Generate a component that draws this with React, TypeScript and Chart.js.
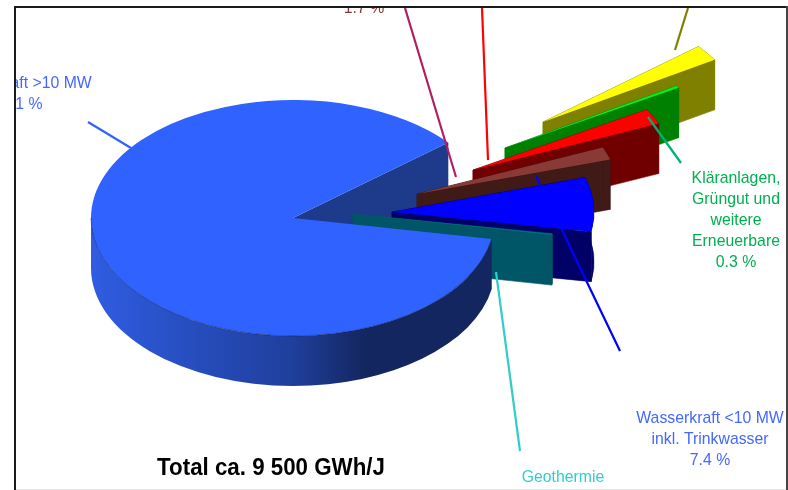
import React, { useEffect, useRef } from "react";
import { Chart, registerables } from "chart.js";

Chart.register(...registerables);

const categories = [
  "Wasserkraft >10 MW",
  "Sonstige 1",
  "Kläranlagen, Grüngut und weitere Erneuerbare",
  "Sonstige 2",
  "Sonstige 3",
  "Wasserkraft <10 MW inkl. Trinkwasser",
  "Geothermie",
];
const shares = [86.1, 2.2, 0.3, 2.1, 1.7, 7.4, 0.2];

const topColors = ["#3062ff", "#ffff00", "#00f020", "#ff0000", "#8a3a36", "#0000ff", "#006f7c"];
const wallColors = ["#1e3a8a", "#808000", "#008000", "#700000", "#3f1a16", "#000066", "#005566"];

// where each slice's tip has been pulled out to, relative to the pie centre (exploded layout)
const sliceShift: [number, number][] = [
  [0, 0],
  [250, -96],
  [212, -70],
  [180, -48],
  [124, -24],
  [99, -6],
  [60, -4],
];

const FLATTEN = 0.584;
const DEPTH = 50;
const TEXT_SQUEEZE = 0.93;
const BACK_TO_FRONT = [1, 2, 3, 4, 5, 6];
const BODY_FONT = '17px "Liberation Sans", Arial, sans-serif';
const TITLE_FONT = 'bold 24px "Liberation Sans", Arial, sans-serif';

type Note = { lines: string[]; x: number; y: number; color: string };
const notes: Note[] = [
  { lines: ["Wasserkraft >10 MW", "86.1 %"], x: 18, y: 88, color: "#4468ff" },
  { lines: ["Wasserkraft <10 MW", "inkl. Trinkwasser", "7.4 %"], x: 710, y: 423, color: "#4468ff" },
  { lines: ["Kläranlagen,", "Grüngut und", "weitere", "Erneuerbare", "0.3 %"], x: 736, y: 183, color: "#00b050" },
  { lines: ["Geothermie"], x: 563, y: 482, color: "#33cccc" },
  { lines: ["1.7 %"], x: 364, y: 13, color: "#8b3a3a" },
];

type Lead = [number, number, number, number, string];
const leaders: Lead[] = [
  [88, 122, 131, 148, "#3062ff"],
  [405, 8, 456, 177, "#b02060"],
  [482, 8, 488, 160, "#ff0000"],
  [688, 8, 675, 50, "#808000"],
  [648, 117, 681, 163, "#00b070"],
  [496, 272, 520, 451, "#33cccc"],
];
const blueLeader: Lead = [536, 176, 620, 351, "#0000ff"];

function line(ctx: CanvasRenderingContext2D, l: Lead, w = 2.2) {
  ctx.save();
  ctx.strokeStyle = l[4];
  ctx.lineWidth = w;
  ctx.beginPath();
  ctx.moveTo(l[0], l[1]);
  ctx.lineTo(l[2], l[3]);
  ctx.stroke();
  ctx.restore();
}

function squeezedText(ctx: CanvasRenderingContext2D, t: string, x: number, y: number) {
  ctx.save();
  ctx.translate(x, y);
  ctx.scale(TEXT_SQUEEZE, 1);
  ctx.fillText(t, 0, 0);
  ctx.restore();
}

const pie3d = {
  id: "pie3d",
  beforeDatasetsDraw(chart: any) {
    const ctx: CanvasRenderingContext2D = chart.ctx;
    const arcs = chart.getDatasetMeta(0).data;

    const drawTop = (i: number) => {
      const a = arcs[i];
      ctx.save();
      ctx.translate(a.x + sliceShift[i][0], a.y + sliceShift[i][1]);
      ctx.scale(1, FLATTEN);
      ctx.translate(-a.x, -a.y);
      a.draw(ctx);
      ctx.restore();
    };
    const drawWall = (i: number) => {
      const a = arcs[i];
      const r = a.outerRadius;
      const x = a.x + sliceShift[i][0];
      const y = a.y + sliceShift[i][1];
      const quad = (ang: number) => {
        const px = x + Math.cos(ang) * r;
        const py = y + Math.sin(ang) * r * FLATTEN;
        ctx.beginPath();
        ctx.moveTo(x, y);
        ctx.lineTo(px, py);
        ctx.lineTo(px, py + DEPTH);
        ctx.lineTo(x, y + DEPTH);
        ctx.closePath();
        ctx.fill();
        ctx.stroke();
      };
      ctx.fillStyle = wallColors[i];
      ctx.strokeStyle = wallColors[i];
      ctx.lineWidth = 0.6;
      quad(a.startAngle);
      quad(a.endAngle);
      ctx.beginPath();
      ctx.ellipse(x, y, r, r * FLATTEN, 0, a.startAngle, a.endAngle);
      ctx.ellipse(x, y + DEPTH, r, r * FLATTEN, 0, a.endAngle, a.startAngle, true);
      ctx.closePath();
      ctx.fill();
      ctx.stroke();
    };

    ctx.save();
    ctx.beginPath();
    ctx.rect(16, 8, 770, 481);
    ctx.clip();

    // main slice: the cut face at the back goes first
    const m = arcs[0];
    const mr = m.outerRadius;
    const ex = m.x + Math.cos(m.endAngle) * mr;
    const ey = m.y + Math.sin(m.endAngle) * mr * FLATTEN;
    ctx.fillStyle = wallColors[0];
    ctx.beginPath();
    ctx.moveTo(m.x, m.y);
    ctx.lineTo(ex, ey);
    ctx.lineTo(ex, ey + DEPTH);
    ctx.lineTo(m.x, m.y + DEPTH);
    ctx.closePath();
    ctx.fill();

    for (const i of BACK_TO_FRONT) {
      drawWall(i);
      if (i === 5) line(ctx, blueLeader);
      drawTop(i);
    }

    // main slice: outer wall and top surface go over the exploded slices
    const g = ctx.createLinearGradient(m.x - mr, 0, m.x + mr, 0);
    g.addColorStop(0, "#2f5ce2");
    g.addColorStop(0.5, "#1f3f9c");
    g.addColorStop(0.68, "#14265f");
    g.addColorStop(1, "#14265f");
    ctx.fillStyle = g;
    ctx.beginPath();
    ctx.ellipse(m.x, m.y, mr, mr * FLATTEN, 0, m.startAngle, Math.PI);
    ctx.ellipse(m.x, m.y + DEPTH, mr, mr * FLATTEN, 0, Math.PI, m.startAngle, true);
    ctx.closePath();
    ctx.fill();
    drawTop(0);

    ctx.strokeStyle = "rgba(10,20,60,0.65)";
    ctx.lineWidth = 0.7;
    ctx.beginPath();
    ctx.ellipse(m.x, m.y, mr, mr * FLATTEN, 0, m.startAngle, Math.PI);
    ctx.stroke();

    leaders.forEach((l) => line(ctx, l));

    // notes
    ctx.font = BODY_FONT;
    ctx.textAlign = "center";
    ctx.textBaseline = "alphabetic";
    notes.forEach((n) => {
      ctx.fillStyle = n.color;
      n.lines.forEach((t, k) => squeezedText(ctx, t, n.x, n.y + k * 21));
    });
    ctx.fillStyle = "#000";
    ctx.font = TITLE_FONT;
    squeezedText(ctx, "Total ca. 9 500 GWh/J", 271, 475);
    ctx.restore();

    // frame of the source slide
    ctx.save();
    ctx.fillStyle = "#1a1a1a";
    ctx.fillRect(14, 6, 773, 2);
    ctx.fillRect(14, 6, 2, 484);
    ctx.fillStyle = "#444";
    ctx.fillRect(786, 6, 2, 484);
    ctx.fillStyle = "#e8e8e8";
    ctx.fillRect(16, 489, 770, 1);
    ctx.restore();
    return false;
  },
};

export default function App() {
  const ref = useRef<HTMLCanvasElement>(null);
  useEffect(() => {
    const chart = new Chart(ref.current!, {
      type: "pie",
      data: {
        labels: categories,
        datasets: [{ data: shares, backgroundColor: topColors, borderWidth: 0 }],
      },
      options: {
        animation: false,
        responsive: false,
        rotation: 100.3,
        radius: 202,
        layout: { padding: { left: 0, top: 0, right: 202, bottom: 54 } },
        plugins: { legend: { display: false }, tooltip: { enabled: false } },
      },
      plugins: [pie3d],
    } as any);
    return () => chart.destroy();
  }, []);
  return (
    <canvas
      ref={ref}
      width={788}
      height={490}
      style={{ position: "fixed", left: 0, top: 0, width: 788, height: 490, display: "block" }}
    />
  );
}
